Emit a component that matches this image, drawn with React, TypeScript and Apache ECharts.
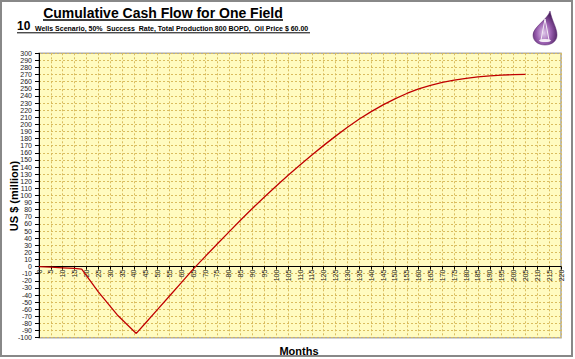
import React, { useEffect, useRef } from "react";
import * as echarts from "echarts";

const months = [0, 5, 10, 15, 18, 25, 33, 41, 45, 50, 55, 60, 65, 70, 75, 80, 85, 90, 95, 100, 105, 110, 115, 120, 125, 130, 135, 140, 145, 150, 155, 160, 165, 170, 175, 180, 185, 190, 195, 200, 205];
const cashFlow = [0, -0.8, -1.7, -2.6, -3.5, -35.6, -68, -94, -79, -60.2, -41.4, -22.6, -3.5, 14, 31.5, 48.5, 65.5, 82, 98, 113.5, 128.5, 143, 157, 170.5, 183.5, 196, 207.5, 218, 227.5, 236, 243.5, 250, 255, 259, 262.2, 264.8, 266.8, 268.3, 269.4, 270, 270.3];

const titleText = "Cumulative Cash Flow for One Field";
const subNumber = "10";
const subText = "Wells Scenario, 50%  Success  Rate, Total Production 800 BOPD,  Oil Price $ 60.00";
const yTitle = "US $ (million)";
const xTitle = "Months";

const dropPath = "M17 0 C15 8 0 16 0 24 C0 30 5 34 12 34 C19 34 24 30 24 24 C24 17 19 10 17 0 Z";
let registered = false;

const GRID_TOP = 53.3;
const GRID_BOTTOM = 21.3;
const Y_MIN = -100;
const Y_MAX = 300;

export default function App() {
  const ref = useRef<HTMLDivElement>(null);
  useEffect(() => {
    if (!registered) {
      echarts.graphic.registerShape("drop", echarts.graphic.extendPath(dropPath, {}) as any);
      registered = true;
    }
    const chart = echarts.init(ref.current!, null, { renderer: "svg" });
    const font = "'Liberation Sans', Arial, sans-serif";
    const plotH = 359 - GRID_TOP - GRID_BOTTOM;
    const zeroOffset = -plotH * (0 - Y_MIN) / (Y_MAX - Y_MIN);
    chart.setOption({
      animation: false,
      backgroundColor: "#ffffff",
      grid: {
        left: 39,
        right: 14,
        top: GRID_TOP,
        bottom: GRID_BOTTOM,
        containLabel: false,
        show: true,
        backgroundColor: "#FFFBC0",
        borderColor: "#A8A8A8",
        borderWidth: 1.5,
      },
      xAxis: {
        type: "value",
        min: 0,
        max: 220,
        interval: 5,
        position: "bottom",
        offset: zeroOffset,
        axisLine: { show: true, onZero: false, lineStyle: { color: "#000", width: 1 } },
        axisTick: { show: true, length: 3, lineStyle: { color: "#000" } },
        axisLabel: {
          show: true,
          rotate: 90,
          fontSize: 7,
          color: "#222",
          fontFamily: font,
          margin: 3,
          hideOverlap: false,
          showMinLabel: true,
          showMaxLabel: true,
        },
        splitLine: { show: true, lineStyle: { color: "#D9BC5E", type: [2, 2], width: 1 } },
      },
      yAxis: {
        type: "value",
        min: Y_MIN,
        max: Y_MAX,
        interval: 10,
        axisLine: { show: true, onZero: false, lineStyle: { color: "#000", width: 1 } },
        axisTick: { show: true, length: 4, lineStyle: { color: "#000" } },
        axisLabel: {
          fontSize: 7,
          color: "#222",
          fontFamily: font,
          margin: 7,
          hideOverlap: false,
          showMinLabel: true,
          showMaxLabel: true,
        },
        splitLine: { show: true, lineStyle: { color: "#D9BC5E", type: [2, 2], width: 1 } },
      },
      series: [
        {
          type: "line",
          data: months.map((m, i) => [m, cashFlow[i]]),
          showSymbol: false,
          symbol: "none",
          smooth: false,
          lineStyle: { color: "#C00000", width: 1.3 },
        },
      ],
      graphic: [
        {
          type: "rect",
          shape: { x: 1, y: 1, width: 571, height: 355 },
          style: { fill: "none", stroke: "#888", lineWidth: 2 },
          silent: true,
        },
        {
          type: "text",
          x: 163,
          y: 13,
          style: {
            text: titleText,
            font: `bold 14px ${font}`,
            fill: "#000",
            textAlign: "center",
            textVerticalAlign: "middle",
          },
        },
        {
          type: "line",
          shape: { x1: 43, y1: 20, x2: 283, y2: 20 },
          style: { stroke: "#000", lineWidth: 1.3 },
        },
        {
          type: "text",
          x: 17,
          y: 31.5,
          style: {
            text: subNumber,
            font: `bold 12px ${font}`,
            fill: "#000",
            textAlign: "left",
            textVerticalAlign: "bottom",
          },
        },
        {
          type: "text",
          x: 35,
          y: 31.5,
          style: {
            text: subText,
            font: `bold 7px ${font}`,
            fill: "#000",
            textAlign: "left",
            textVerticalAlign: "bottom",
          },
        },
        {
          type: "line",
          shape: { x1: 17, y1: 32.8, x2: 310, y2: 32.8 },
          style: { stroke: "#000", lineWidth: 1 },
        },
        {
          type: "drop",
          x: 533,
          y: 11,
          scaleX: 1,
          scaleY: 1,
          style: {
            fill: new echarts.graphic.RadialGradient(0.45, 0.65, 0.6, [
              { offset: 0, color: "#E0C8EA" },
              { offset: 0.5, color: "#9A5FB0" },
              { offset: 1, color: "#4A1E5E" },
            ]),
            stroke: "#5A2A6E",
            lineWidth: 0.5,
          },
        },
        {
          type: "polygon",
          shape: { points: [[545, 19], [541, 40], [549, 40]] },
          style: { fill: "none", stroke: "#F4ECF6", lineWidth: 1 },
        },
        {
          type: "ellipse",
          shape: { cx: 545, cy: 40.5, rx: 6, ry: 1.6 },
          style: { fill: "#F4ECF6" },
        },
        {
          type: "text",
          x: 14,
          y: 196,
          rotation: Math.PI / 2,
          style: {
            text: yTitle,
            font: `bold 11px ${font}`,
            fill: "#000",
            textAlign: "center",
            textVerticalAlign: "middle",
          },
        },
        {
          type: "text",
          x: 299,
          y: 351,
          style: {
            text: xTitle,
            font: `bold 11px ${font}`,
            fill: "#000",
            textAlign: "center",
            textVerticalAlign: "middle",
          },
        },
      ],
    });
    return () => chart.dispose();
  }, []);
  return (
    <div
      ref={ref}
      style={{ position: "absolute", left: 0, top: 0, width: 575, height: 359 }}
    />
  );
}
